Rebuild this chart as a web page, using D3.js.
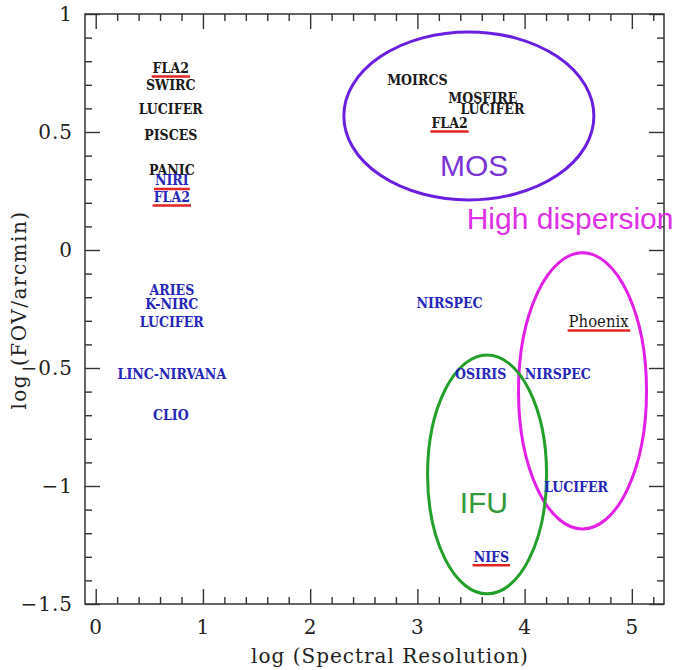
<!DOCTYPE html>
<html>
<head>
<meta charset="utf-8">
<script src="https://cdn.jsdelivr.net/npm/d3@7/dist/d3.min.js"></script>
<style>
  html, body { margin: 0; padding: 0; background: #fff; }
  svg { display: block; }
</style>
</head>
<body>
<svg id="chart" width="673" height="670"></svg>
<script>
// ---------- data ----------
const instruments = ["FLA2","SWIRC","LUCIFER","PISCES","PANIC","NIRI","FLA2",
  "ARIES","K-NIRC","LUCIFER","LINC-NIRVANA","CLIO",
  "MOIRCS","MOSFIRE","LUCIFER","FLA2",
  "NIRSPEC","Phoenix","OSIRIS","NIRSPEC","LUCIFER","NIFS"];
const logResolution = [0.70,0.70,0.70,0.70,0.71,0.71,0.71,
  0.71,0.71,0.71,0.71,0.70,
  3.00,3.61,3.70,3.30,
  3.30,4.69,3.59,4.31,4.48,3.69];
const logFov = [0.771,0.700,0.597,0.487,0.337,0.295,0.225,
  -0.170,-0.227,-0.305,-0.525,-0.700,
  0.720,0.642,0.597,0.538,
  -0.225,-0.305,-0.525,-0.525,-1.004,-1.300];
// group: "A" = black labels, "B" = blue labels
const group = ["A","A","A","A","A","B","B",
  "B","B","B","B","B",
  "A","A","A","A",
  "B","A","B","B","B","B"];
const highlighted = [true,false,false,false,false,true,true,
  false,false,false,false,false,
  false,false,false,true,
  false,true,false,false,false,true];

const regionNames = ["MOS","High dispersion","IFU"];
const regionCx = [3.48, 4.54, 3.65];
const regionCy = [0.568, -0.597, -0.951];
const regionRx = [1.166, 0.597, 0.555];
const regionRy = [0.356, 0.585, 0.506];
const regionLabelX = [3.53, 3.46, 3.62];
const regionLabelY = [0.36, 0.135, -1.07];

const xMajorTicks = [0,1,2,3,4,5];
const yMajorTicks = [1,0.5,0,-0.5,-1,-1.5];
const xLabel = "log (Spectral Resolution)";
const yLabel = "log (FOV/arcmin)";

// ---------- layout ----------
const pLeft = 85, pRight = 664, pTop = 14, pBottom = 604;
const x = d3.scaleLinear().domain([-0.1, 5.3]).range([pLeft, pRight]);
const y = d3.scaleLinear().domain([-1.5, 1]).range([pBottom, pTop]);

const svg = d3.select("#chart");
const labelColor = {A: "#1a1a1a", B: "#2626b8"};
const regionColor = ["#6a1fe0", "#e21fe6", "#22a02a"];
const regionTextColor = ["#7a33d6", "#e030e6", "#33993d"];

// minor ticks
const xMinor = d3.range(0, 5.31, 0.2).filter(v => Math.abs(v - Math.round(v)) > 1e-6);
const yMinor = d3.range(-1.5, 1.001, 0.1).filter(v => Math.abs(v*2 - Math.round(v*2)) > 1e-6);

function styleAxis(g, showLabels) {
  g.select(".domain").remove();
  g.selectAll(".tick line").attr("stroke", "#333").attr("stroke-width", 1.4);
  g.selectAll(".tick text")
    .attr("font-family", "'DejaVu Serif', serif")
    .attr("font-size", 20)
    .attr("letter-spacing", 1)
    .attr("fill", "#222")
    .style("display", showLabels ? null : "none");
}
const fmt = d => d3.format("")(d);

svg.append("g").attr("transform", `translate(${pLeft},0)`)
  .call(d3.axisLeft(y).tickValues(yMajorTicks).tickSize(-15).tickPadding(12).tickFormat(fmt))
  .call(g => styleAxis(g, true));
svg.append("g").attr("transform", `translate(${pLeft},0)`)
  .call(d3.axisLeft(y).tickValues(yMinor).tickSize(-7))
  .call(g => styleAxis(g, false));
svg.append("g").attr("transform", `translate(${pRight},0)`)
  .call(d3.axisRight(y).tickValues(yMajorTicks).tickSize(-15))
  .call(g => styleAxis(g, false));
svg.append("g").attr("transform", `translate(${pRight},0)`)
  .call(d3.axisRight(y).tickValues(yMinor).tickSize(-7))
  .call(g => styleAxis(g, false));
svg.append("g").attr("transform", `translate(0,${pBottom})`)
  .call(d3.axisBottom(x).tickValues(xMajorTicks).tickSize(-15).tickPadding(16).tickFormat(fmt))
  .call(g => styleAxis(g, true));
svg.append("g").attr("transform", `translate(0,${pBottom})`)
  .call(d3.axisBottom(x).tickValues(xMinor).tickSize(-7))
  .call(g => styleAxis(g, false));
svg.append("g").attr("transform", `translate(0,${pTop})`)
  .call(d3.axisTop(x).tickValues(xMajorTicks).tickSize(-15))
  .call(g => styleAxis(g, false));
svg.append("g").attr("transform", `translate(0,${pTop})`)
  .call(d3.axisTop(x).tickValues(xMinor).tickSize(-7))
  .call(g => styleAxis(g, false));

// frame
svg.append("rect")
  .attr("x", pLeft).attr("y", pTop)
  .attr("width", pRight - pLeft).attr("height", pBottom - pTop)
  .attr("fill", "none").attr("stroke", "#333").attr("stroke-width", 1.5);

// axis titles
svg.append("text")
  .attr("x", 390).attr("y", 656)
  .attr("text-anchor", "middle").attr("dominant-baseline", "central")
  .attr("font-family", "'DejaVu Serif', serif").attr("font-size", 20)
  .attr("letter-spacing", 1)
  .attr("fill", "#222")
  .text(xLabel);
svg.append("text")
  .attr("transform", `translate(19,${310}) rotate(-90)`)
  .attr("text-anchor", "middle").attr("dominant-baseline", "central")
  .attr("font-family", "'DejaVu Serif', serif").attr("font-size", 20)
  .attr("letter-spacing", 1.5)
  .attr("fill", "#222")
  .text(yLabel);

// regions
const regions = regionNames.map((n, i) => ({
  name: n, cx: regionCx[i], cy: regionCy[i], rx: regionRx[i], ry: regionRy[i],
  lx: regionLabelX[i], ly: regionLabelY[i], i
}));
svg.append("g").selectAll("ellipse").data(regions).join("ellipse")
  .attr("cx", d => x(d.cx)).attr("cy", d => y(d.cy))
  .attr("rx", d => x(d.cx + d.rx) - x(d.cx))
  .attr("ry", d => y(d.cy - d.ry) - y(d.cy))
  .attr("fill", "none")
  .attr("stroke", d => regionColor[d.i])
  .attr("stroke-width", 3);
svg.append("g").selectAll("text").data(regions).join("text")
  .attr("x", d => x(d.lx)).attr("y", d => y(d.ly))
  .attr("text-anchor", d => d.i === 1 ? "start" : "middle")
  .attr("dominant-baseline", "central")
  .attr("font-family", "'Liberation Sans', Arial, sans-serif")
  .attr("font-size", 30)
  .attr("fill", d => regionTextColor[d.i])
  .text(d => d.name);

// instrument labels
const items = instruments.map((n, i) => ({
  name: n, x: logResolution[i], y: logFov[i], g: group[i], hl: highlighted[i]
}));
const lab = svg.append("g");
const texts = lab.selectAll("text").data(items).join("text")
  .attr("x", d => x(d.x)).attr("y", d => y(d.y))
  .attr("text-anchor", "middle").attr("dominant-baseline", "central")
  .attr("font-family", "'DejaVu Serif Condensed', 'DejaVu Serif', serif")
  .style("font-stretch", "condensed")
  .attr("font-weight", d => d.name === "Phoenix" ? "normal" : "bold")
  .attr("font-size", d => d.name === "Phoenix" ? 16.5 : 14)
  .attr("fill", d => labelColor[d.g])
  .text(d => d.name);

texts.each(function(d) {
  if (!d.hl) return;
  const b = this.getBBox();
  lab.append("line")
    .attr("x1", b.x - 1).attr("x2", b.x + b.width + 1)
    .attr("y1", y(d.y) + 8.5).attr("y2", y(d.y) + 8.5)
    .attr("stroke", "#e02424").attr("stroke-width", 2.5);
});
</script>
</body>
</html>
